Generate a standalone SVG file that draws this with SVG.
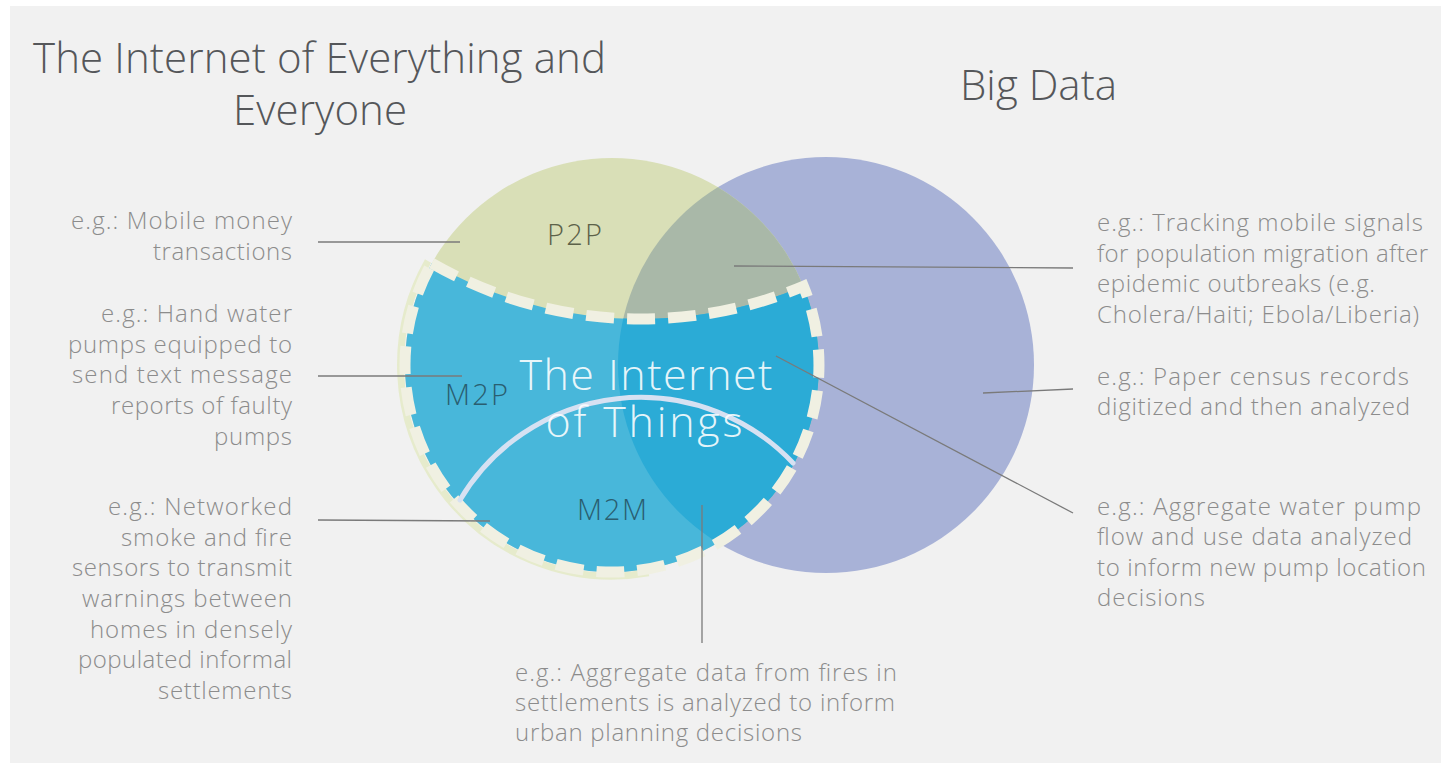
<svg xmlns="http://www.w3.org/2000/svg" width="1441" height="765" viewBox="0 0 1441 765">
  <defs>
    <style>
      .title { font-family: "Open Sans", "Liberation Sans", Arial, sans-serif; font-weight: 300; font-size: 42px; fill: #55575a; }
      .note { font-family: "Open Sans", "Liberation Sans", Arial, sans-serif; font-weight: 300; font-size: 24px; fill: #8c8c8c; }
      .tag { font-family: "Open Sans", "Liberation Sans", Arial, sans-serif; font-weight: 300; font-size: 29px; }
      .iot-name { font-family: "Open Sans", "Liberation Sans", Arial, sans-serif; font-weight: 300; font-size: 43px; fill: #ffffff; fill-opacity: 0.88; text-anchor: middle; }
      .leader { stroke: #7a7a7a; stroke-width: 1.3; fill: none; }
    </style>
    <clipPath id="clip-bigdata">
      <circle cx="826" cy="365" r="208"/>
    </clipPath>
    <!-- lower part of the IoE circle, cut off by the sagging arc -->
    <path id="iot-shape" d="M431.8 263.2 A420 420 0 0 0 803.4 286.3 A207 207 0 1 1 431.8 263.2 Z"/>
  </defs>

  <!-- page -->
  <rect x="0" y="0" width="1441" height="765" fill="#ffffff"/>
  <rect x="10" y="6" width="1431" height="757" fill="#f1f1f1"/>

  <!-- headings -->
  <g id="heading-ioe">
    <text class="title" x="33" y="73" textLength="573">The Internet of Everything and</text>
    <text class="title" x="233" y="125" textLength="174">Everyone</text>
  </g>
  <g id="heading-bigdata">
    <text class="title" x="960" y="100" textLength="157">Big Data</text>
  </g>

  <!-- Big Data circle -->
  <g id="bigdata-circle">
    <circle cx="826" cy="365" r="208" fill="#a8b2d7"/>
  </g>

  <!-- Internet of Everything and Everyone circle (P2P) -->
  <g id="ioe-circle">
    <circle cx="612" cy="365" r="207" fill="#d9dfb7"/>
    <circle cx="612" cy="365" r="207" fill="#a9b8a8" clip-path="url(#clip-bigdata)"/>
    <text class="tag" x="547" y="245" textLength="55" fill="#5c6249">P2P</text>
  </g>

  <!-- Internet of Things region (M2P / M2M) -->
  <g id="iot-region">
    <!-- pale rim just outside the lower-left edge -->
    <path d="M648.6 572.8 A211 211 0 0 1 428 261" fill="none" stroke="#e6ebcc" stroke-width="7"/>
    <use href="#iot-shape" fill="#48b7da"/>
    <use href="#iot-shape" fill="#2babd6" clip-path="url(#clip-bigdata)"/>
    <!-- dashed outline -->
    <use href="#iot-shape" fill="none" stroke="#f0f0e2" stroke-width="11" stroke-dasharray="28 13"/>
    <!-- divider between M2P and M2M -->
    <path d="M460 500 A210 210 0 0 1 793 463" fill="none" stroke="#d6e1f2" stroke-width="5" stroke-linecap="round"/>
    <text class="tag" x="445" y="405" textLength="63" fill="#2a5e70">M2P</text>
    <text class="tag" x="577" y="520" textLength="70" fill="#2a5e70">M2M</text>
    <text class="iot-name" x="646" y="390" textLength="253">The Internet</text>
    <text class="iot-name" x="644" y="437" textLength="197">of Things</text>
  </g>

  <!-- leader lines -->
  <g id="connectors">
    <line class="leader" x1="318" y1="242" x2="460" y2="242"/>
    <line class="leader" x1="318" y1="376" x2="462" y2="376"/>
    <line class="leader" x1="318" y1="520" x2="490" y2="521"/>
    <line class="leader" x1="734" y1="266" x2="1073" y2="268"/>
    <line class="leader" x1="983" y1="393" x2="1073" y2="389"/>
    <line class="leader" x1="776" y1="356" x2="1073" y2="513"/>
    <line class="leader" x1="702" y1="505" x2="702" y2="643"/>
  </g>

  <!-- annotations, left column -->
  <g id="note-p2p" class="note" text-anchor="end">
    <text x="292" y="229" textLength="221">e.g.: Mobile money</text>
    <text x="292" y="260" textLength="139">transactions</text>
  </g>
  <g id="note-m2p" class="note" text-anchor="end">
    <text x="292" y="322" textLength="191">e.g.: Hand water</text>
    <text x="292" y="353" textLength="224">pumps equipped to</text>
    <text x="292" y="383" textLength="220">send text message</text>
    <text x="292" y="414" textLength="181">reports of faulty</text>
    <text x="292" y="445" textLength="78">pumps</text>
  </g>
  <g id="note-m2m" class="note" text-anchor="end">
    <text x="292" y="515" textLength="184">e.g.: Networked</text>
    <text x="292" y="546" textLength="171">smoke and fire</text>
    <text x="292" y="576" textLength="220">sensors to transmit</text>
    <text x="292" y="607" textLength="210">warnings between</text>
    <text x="292" y="638" textLength="202">homes in densely</text>
    <text x="292" y="668" textLength="214">populated informal</text>
    <text x="292" y="699" textLength="134">settlements</text>
  </g>

  <!-- annotations, right column -->
  <g id="note-p2p-bigdata" class="note">
    <text x="1097" y="231" textLength="326">e.g.: Tracking mobile signals</text>
    <text x="1097" y="262" textLength="331">for population migration after</text>
    <text x="1097" y="292" textLength="278">epidemic outbreaks (e.g.</text>
    <text x="1097" y="323" textLength="322">Cholera/Haiti; Ebola/Liberia)</text>
  </g>
  <g id="note-bigdata" class="note">
    <text x="1097" y="385" textLength="312">e.g.: Paper census records</text>
    <text x="1097" y="415" textLength="313">digitized and then analyzed</text>
  </g>
  <g id="note-m2p-bigdata" class="note">
    <text x="1097" y="515" textLength="324">e.g.: Aggregate water pump</text>
    <text x="1097" y="545" textLength="315">flow and use data analyzed</text>
    <text x="1097" y="576" textLength="329">to inform new pump location</text>
    <text x="1097" y="606" textLength="108">decisions</text>
  </g>

  <!-- annotation, bottom -->
  <g id="note-m2m-bigdata" class="note">
    <text x="515" y="681" textLength="382">e.g.: Aggregate data from fires in</text>
    <text x="515" y="711" textLength="380">settlements is analyzed to inform</text>
    <text x="515" y="741" textLength="287">urban planning decisions</text>
  </g>
</svg>
